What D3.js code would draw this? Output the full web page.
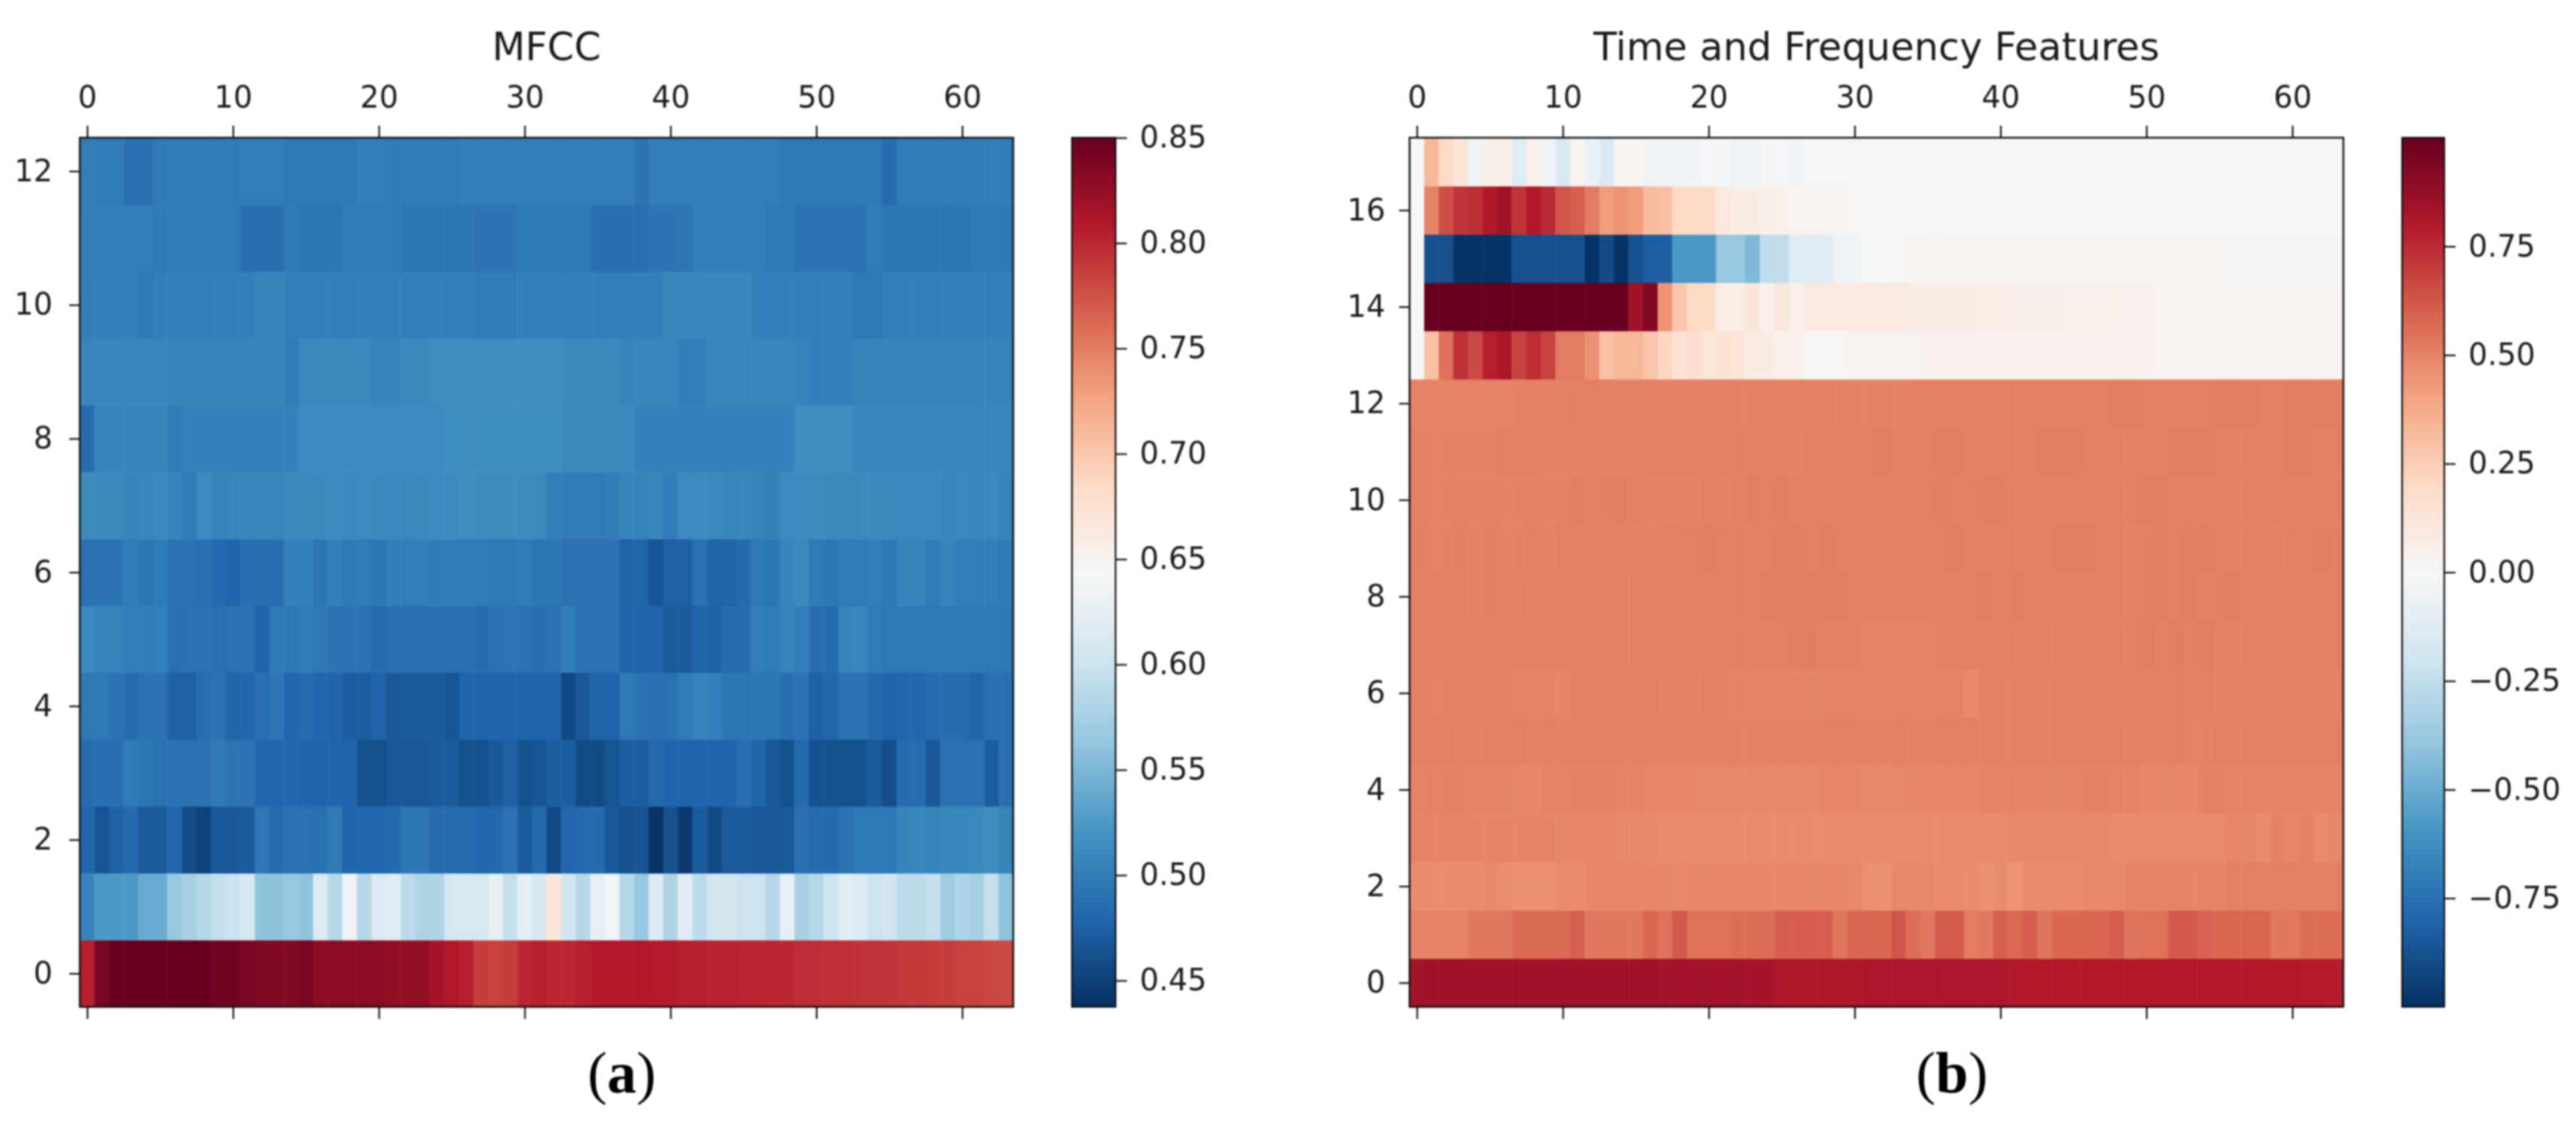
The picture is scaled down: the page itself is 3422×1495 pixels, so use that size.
<!DOCTYPE html>
<html lang="en">

<head>
    <meta charset="UTF-8">
    <title>MFCC and Time and Frequency Features</title>
    <script src="https://d3js.org/d3.v7.min.js"></script>
    <style>
        html, body {
            margin: 0;
            padding: 0;
            background-color: white;
        }

        /* the source figure is a soft upscaled bitmap */
        svg {
            display: block;
            filter: blur(0.8px);
        }
    </style>
</head>

<body>
    <svg id="chart" width="3422" height="1495"></svg>

    <script>
        // panel (a) rows, row 0 is at the bottom
        const mfcc0 = [.805,.84,.85,.85,.85,.85,.85,.85,.85,.845,.845,.84,.835,.835,.835,.84,
            .83,.83,.83,.83,.83,.825,.825,.825,.815,.81,.805,.787,.785,.787,.80,.805,
            .80,.80,.805,.808,.809,.809,.809,.808,.807,.805,.805,.803,.803,.802,.802,.80,
            .80,.797,.796,.795,.795,.794,.793,.792,.79,.789,.788,.787,.785,.784,.782,.78];
        const mfcc1 = [.505,.525,.525,.525,.54,.54,.565,.575,.585,.595,.60,.61,.56,.56,.565,.56,
            .615,.585,.635,.585,.615,.62,.59,.58,.58,.61,.61,.61,.625,.595,.625,.61,
            .67,.605,.585,.625,.638,.585,.565,.615,.58,.62,.59,.605,.605,.60,.60,.585,
            .625,.575,.585,.60,.62,.615,.60,.605,.59,.59,.595,.57,.58,.575,.595,.56];
        const mfcc2 = [.48,.465,.475,.482,.47,.47,.48,.46,.452,.468,.468,.47,.495,.483,.49,.49,
            .488,.497,.478,.48,.48,.482,.493,.493,.483,.483,.483,.48,.481,.49,.47,.482,
            .458,.48,.482,.482,.468,.462,.465,.44,.462,.445,.47,.457,.47,.47,.467,.468,
            .469,.488,.483,.482,.49,.495,.495,.495,.505,.508,.505,.508,.508,.51,.515,.505];
        const mfcc3 = [.485,.487,.487,.497,.493,.49,.49,.49,.49,.497,.492,.492,.48,.48,.48,.478,
            .478,.478,.478,.463,.463,.467,.467,.467,.47,.47,.463,.463,.468,.475,.463,.465,
            .472,.472,.457,.457,.465,.472,.472,.482,.478,.478,.478,.478,.478,.487,.478,.468,
            .463,.482,.463,.463,.463,.463,.47,.46,.485,.485,.467,.49,.49,.49,.472,.488];
        const mfcc4 = [.495,.495,.49,.485,.49,.49,.475,.475,.485,.49,.477,.48,.488,.493,.48,.485,
            .48,.478,.472,.472,.478,.468,.47,.47,.47,.465,.478,.478,.478,.478,.478,.478,
            .478,.456,.468,.477,.478,.495,.49,.488,.49,.497,.505,.503,.493,.493,.493,.493,
            .487,.49,.475,.48,.49,.49,.482,.478,.48,.48,.485,.485,.485,.478,.488,.488];
        const mfcc5 = [.512,.505,.505,.50,.50,.503,.488,.49,.49,.488,.49,.49,.478,.495,.495,.498,
            .495,.492,.492,.49,.485,.488,.488,.488,.488,.488,.488,.485,.49,.492,.49,.487,
            .49,.50,.49,.49,.49,.478,.478,.478,.47,.47,.477,.475,.485,.485,.50,.497,
            .505,.50,.485,.485,.505,.508,.497,.495,.495,.495,.495,.495,.495,.495,.495,.495];
        const mfcc6 = [.49,.49,.49,.498,.493,.497,.49,.49,.488,.482,.478,.487,.487,.487,.503,.503,
            .492,.503,.496,.497,.494,.50,.50,.50,.498,.498,.498,.497,.495,.495,.497,.493,
            .493,.49,.49,.49,.49,.477,.477,.465,.475,.475,.49,.477,.477,.482,.495,.493,
            .505,.51,.497,.493,.498,.497,.50,.495,.505,.505,.497,.505,.50,.50,.50,.497];
        const mfcc7 = [.513,.511,.51,.505,.508,.51,.505,.498,.512,.505,.507,.507,.508,.507,.51,.51,
            .511,.512,.51,.512,.511,.509,.51,.511,.512,.513,.514,.513,.513,.513,.513,.511,
            .50,.498,.497,.497,.50,.506,.504,.508,.50,.512,.512,.51,.508,.509,.505,.503,
            .512,.513,.513,.511,.51,.511,.511,.51,.509,.509,.509,.508,.51,.508,.51,.506];
        const mfcc8 = [.485,.506,.506,.506,.506,.506,.498,.503,.503,.503,.503,.503,.503,.503,.503,.512,
            .512,.512,.512,.512,.512,.512,.512,.512,.512,.515,.515,.515,.515,.515,.515,.515,
            .515,.51,.51,.51,.51,.51,.503,.503,.503,.503,.503,.503,.503,.503,.503,.503,
            .503,.514,.514,.514,.514,.508,.508,.508,.508,.508,.508,.508,.508,.508,.508,.508];
        const mfcc9 = [.508,.508,.508,.508,.508,.508,.505,.505,.505,.505,.505,.505,.505,.505,.498,.51,
            .51,.51,.51,.51,.505,.505,.51,.51,.514,.514,.514,.514,.514,.514,.514,.514,
            .514,.51,.51,.51,.51,.505,.507,.507,.507,.50,.50,.507,.507,.507,.507,.507,
            .507,.505,.502,.502,.502,.505,.505,.505,.505,.505,.505,.505,.505,.505,.505,.505];
        const mfcc10 = [.502,.502,.502,.502,.496,.502,.502,.502,.502,.502,.502,.502,.505,.505,.502,.502,
            .502,.502,.502,.502,.502,.502,.502,.502,.502,.502,.502,.498,.498,.498,.502,.502,
            .502,.502,.502,.502,.502,.502,.502,.502,.508,.508,.508,.508,.508,.508,.502,.502,
            .502,.502,.502,.502,.502,.495,.495,.502,.502,.502,.502,.502,.502,.502,.502,.502];
        const mfcc11 = [.50,.50,.50,.50,.50,.497,.497,.497,.497,.497,.497,.487,.487,.487,.497,.493,
            .493,.493,.498,.498,.498,.498,.493,.493,.493,.493,.493,.492,.492,.492,.496,.496,
            .496,.496,.496,.487,.487,.487,.487,.492,.492,.492,.501,.501,.501,.501,.501,.495,
            .495,.49,.49,.49,.49,.49,.497,.493,.493,.493,.493,.493,.493,.495,.495,.495];
        const mfcc12 = [.499,.498,.498,.488,.488,.497,.497,.497,.497,.497,.497,.499,.499,.499,.495,.495,
            .495,.495,.495,.50,.50,.497,.497,.497,.497,.497,.50,.50,.50,.50,.50,.50,
            .50,.50,.50,.50,.50,.50,.492,.50,.50,.50,.50,.50,.50,.50,.50,.50,
            .495,.495,.495,.495,.495,.495,.495,.485,.497,.497,.497,.497,.497,.50,.50,.50];

        // panel (b) rows, row 0 is at the bottom
        const tf0 = [.84,.85,.85,.85,.85,.85,.85,.85,.85,.85,.85,.85,.85,.85,.85,.85,
            .85,.84,.84,.84,.84,.84,.84,.84,.83,.81,.81,.81,.81,.81,.81,.82,
            .82,.82,.82,.82,.82,.82,.82,.82,.82,.80,.80,.80,.80,.80,.80,.80,
            .80,.80,.80,.80,.80,.80,.80,.80,.80,.80,.80,.80,.80,.795,.795,.79];
        const tf1 = [.50,.50,.50,.50,.53,.53,.53,.57,.57,.57,.57,.60,.53,.53,.53,.53,
            .58,.55,.62,.55,.55,.55,.56,.56,.56,.60,.60,.60,.60,.54,.58,.58,
            .58,.63,.56,.53,.61,.61,.52,.53,.60,.57,.60,.54,.58,.58,.58,.58,
            .60,.54,.55,.55,.62,.62,.59,.58,.58,.58,.58,.53,.53,.56,.56,.56];
        const tf2 = [.47,.47,.47,.47,.47,.48,.465,.46,.46,.46,.47,.47,.49,.49,.49,.49,
            .49,.49,.48,.49,.49,.49,.49,.49,.49,.49,.49,.49,.49,.49,.485,.46,
            .455,.48,.48,.48,.47,.47,.47,.455,.47,.45,.475,.475,.475,.475,.48,.48,
            .48,.495,.495,.495,.495,.495,.495,.495,.51,.51,.51,.51,.51,.51,.51,.51];
        const tf3 = [.495,.495,.495,.495,.495,.495,.495,.495,.495,.495,.49,.49,.49,.49,.485,.485,
            .48,.475,.475,.475,.475,.475,.47,.47,.47,.47,.47,.47,.47,.47,.47,.475,
            .475,.475,.475,.47,.47,.475,.475,.475,.475,.48,.48,.48,.48,.48,.48,.48,
            .475,.475,.475,.475,.475,.475,.475,.475,.49,.49,.475,.50,.49,.505,.475,.49];
        const tf4 = [.50,.505,.505,.505,.50,.50,.50,.49,.49,.50,.50,.505,.505,.505,.50,.50,
            .49,.49,.49,.49,.485,.485,.485,.485,.485,.485,.485,.485,.49,.49,.49,.485,
            .485,.485,.49,.49,.49,.49,.49,.50,.50,.50,.50,.50,.50,.50,.505,.505,
            .50,.50,.49,.49,.49,.49,.505,.505,.50,.50,.50,.50,.50,.50,.50,.50];
        const tf5 = [.51,.51,.51,.505,.505,.51,.51,.51,.505,.51,.505,.505,.505,.505,.505,.505,
            .505,.505,.505,.505,.505,.505,.505,.505,.505,.505,.505,.505,.51,.51,.51,.505,
            .505,.51,.505,.505,.51,.51,.51,.505,.505,.505,.505,.505,.505,.505,.51,.51,
            .51,.51,.51,.51,.51,.505,.505,.51,.51,.51,.51,.51,.51,.51,.51,.51];
        const tf6 = [.505,.505,.505,.505,.505,.505,.505,.495,.495,.495,.495,.505,.505,.505,.505,.505,
            .51,.505,.51,.505,.51,.505,.50,.50,.50,.50,.50,.50,.50,.50,.50,.50,
            .50,.50,.50,.50,.50,.50,.48,.505,.505,.505,.505,.505,.505,.505,.51,.51,
            .505,.505,.505,.505,.51,.505,.51,.505,.51,.505,.505,.505,.505,.505,.505,.505];
        const tf7 = [.51,.51,.51,.51,.51,.51,.51,.51,.51,.51,.51,.51,.51,.51,.51,.51,
            .51,.51,.51,.51,.51,.51,.51,.51,.51,.51,.52,.52,.51,.51,.51,.50,
            .50,.50,.50,.50,.51,.51,.51,.51,.51,.51,.51,.51,.505,.51,.51,.51,
            .51,.51,.52,.51,.52,.51,.52,.51,.51,.51,.51,.51,.51,.51,.51,.51];
        const tf8 = [.51,.51,.51,.51,.505,.51,.505,.51,.505,.51,.51,.51,.51,.51,.51,.51,
            .505,.505,.505,.505,.505,.51,.51,.51,.515,.515,.515,.515,.515,.515,.51,.51,
            .51,.51,.51,.505,.51,.51,.51,.515,.51,.515,.51,.51,.51,.51,.51,.51,
            .51,.51,.51,.515,.51,.515,.51,.51,.515,.51,.51,.51,.51,.51,.51,.51];
        const tf9 = [.51,.505,.505,.51,.505,.51,.505,.505,.51,.505,.51,.51,.51,.51,.51,.505,
            .505,.51,.51,.51,.515,.51,.51,.505,.51,.515,.515,.51,.515,.51,.51,.51,
            .51,.51,.51,.51,.51,.515,.51,.51,.51,.51,.51,.51,.515,.515,.515,.51,
            .51,.505,.51,.515,.51,.515,.515,.51,.51,.51,.51,.505,.51,.51,.515,.51];
        const tf10 = [.505,.505,.505,.505,.505,.505,.505,.505,.505,.505,.505,.515,.505,.51,.515,.51,
            .505,.505,.505,.505,.51,.505,.51,.515,.51,.515,.51,.51,.51,.51,.51,.51,
            .51,.51,.51,.51,.515,.51,.51,.515,.515,.51,.51,.51,.51,.51,.51,.51,
            .51,.51,.515,.515,.51,.51,.51,.51,.51,.51,.51,.51,.51,.51,.51,.51];
        const tf11 = [.505,.505,.505,.505,.505,.505,.51,.51,.51,.505,.505,.505,.505,.505,.505,.505,
            .51,.51,.51,.51,.51,.51,.51,.51,.51,.51,.505,.51,.51,.51,.51,.51,
            .515,.51,.51,.51,.515,.515,.51,.51,.51,.51,.51,.515,.515,.515,.51,.51,
            .51,.51,.51,.51,.515,.515,.515,.51,.51,.51,.51,.51,.515,.515,.51,.51];
        const tf12 = [.50,.50,.50,.495,.50,.50,.50,.505,.505,.505,.505,.51,.51,.505,.505,.505,
            .505,.505,.505,.505,.505,.505,.505,.505,.505,.51,.51,.51,.51,.505,.505,.505,
            .505,.505,.505,.51,.51,.51,.51,.51,.51,.51,.51,.51,.51,.51,.51,.51,
            .515,.515,.51,.51,.51,.51,.51,.515,.515,.515,.51,.51,.515,.515,.515,.515];
        const tf13 = [0,.30,.55,.73,.66,.78,.82,.68,.74,.68,.52,.52,.46,.30,.33,.33,
            .28,.22,.15,.17,.12,.15,.13,.08,.08,.05,.05,.01,.01,.01,.03,.03,
            .03,.03,.03,.04,.04,.04,.04,.04,.04,.04,.04,.04,.04,.04,.04,.04,
            .04,.04,.04,.03,.03,.03,.03,.03,.03,.03,.03,.03,.03,.03,.03,.03];
        const tf14 = [0,1,1,1,1,1,1,1,1,1,1,1,1,1,1,.85,
            .93,.45,.28,.20,.20,.07,.07,.13,.05,.12,.05,.10,.10,.10,.10,.10,
            .09,.09,.08,.08,.08,.08,.08,.07,.07,.06,.06,.06,.06,.05,.05,.05,
            .05,.04,.04,.03,.03,.03,.03,.03,.03,.03,.03,.03,.03,.03,.03,.03];
        const tf15 = [0,-.88,-.88,-.99,-.99,-.99,-.99,-.88,-.88,-.88,-.88,-.88,-.99,-.90,-.99,-.88,
            -.83,-.83,-.58,-.58,-.58,-.38,-.38,-.45,-.25,-.25,-.12,-.12,-.12,-.04,-.04,0,
            0,.01,.02,.03,.03,.02,.02,.03,.03,.03,.03,.03,.03,.02,.02,.02,
            .02,.02,.02,.02,.02,.02,.02,.02,.015,.015,.015,.015,.015,.015,.015,.015];
        const tf16 = [0,.50,.65,.72,.74,.80,.85,.72,.80,.75,.63,.60,.52,.42,.45,.42,
            .32,.30,.20,.20,.20,.10,.08,.08,.06,.05,.03,.03,.03,.03,.01,.01,
            .01,.01,.01,.01,.01,.01,.01,.01,0,0,0,0,0,0,0,0,
            0,0,0,0,0,0,0,0,0,0,0,0,0,0,0,0];
        const tf17 = [0,.33,.20,.13,-.05,.06,.06,-.12,.05,-.04,-.16,.03,-.07,-.15,.02,.02,
            -.05,-.05,-.05,-.03,-.01,-.02,-.05,-.05,-.02,-.01,-.05,-.01,-.01,-.01,-.01,0,
            0,0,0,0,0,0,0,0,0,0,0,0,0,0,0,0,
            0,0,0,0,0,0,0,0,0,0,0,0,0,0,0,0];

        const mfccRows = [mfcc0, mfcc1, mfcc2, mfcc3, mfcc4, mfcc5, mfcc6, mfcc7, mfcc8, mfcc9, mfcc10, mfcc11, mfcc12];
        const tfRows = [tf0, tf1, tf2, tf3, tf4, tf5, tf6, tf7, tf8, tf9, tf10, tf11, tf12, tf13, tf14, tf15, tf16, tf17];

        const xTicks = [0, 10, 20, 30, 40, 50, 60];
        const mfccYTicks = [0, 2, 4, 6, 8, 10, 12];
        const tfYTicks = [0, 2, 4, 6, 8, 10, 12, 14, 16];
        const mfccBarTicks = [0.45, 0.50, 0.55, 0.60, 0.65, 0.70, 0.75, 0.80, 0.85];
        const tfBarTicks = [-0.75, -0.50, -0.25, 0, 0.25, 0.50, 0.75];

        // RdBu_r stops
        const rdbu = ["#053061", "#2166ac", "#4393c3", "#92c5de", "#d1e5f0", "#f7f7f7", "#fddbc7", "#f4a582", "#d6604d", "#b2182b", "#67001f"];

        const tickFont = 40;
        const plotTop = 183, plotBottom = 1338;
        const svg = d3.select("#chart");

        function panel(o) {
            const g = svg.append("g");
            const x = d3.scaleLinear().domain([-0.5, 63.5]).range([o.left, o.right]);
            const y = d3.scaleLinear().domain([-0.5, o.rows.length - 0.5]).range([plotBottom, plotTop]);
            const color = d3.scaleLinear()
                .domain(d3.quantize(d3.interpolate(o.vmin, o.vmax), rdbu.length))
                .range(rdbu)
                .clamp(true);

            o.rows.forEach((row, r) => {
                g.append("g").selectAll("rect")
                    .data(row)
                    .join("rect")
                    .attr("x", (d, c) => x(c - 0.5))
                    .attr("y", y(r + 0.5))
                    .attr("width", (d, c) => x(c + 0.5) - x(c - 0.5) + 0.5)
                    .attr("height", y(r - 0.5) - y(r + 0.5) + 0.5)
                    .attr("fill", d => color(d));
            });

            const styleAxis = sel => {
                sel.select(".domain").remove();
                sel.selectAll("line").attr("stroke", "#111").attr("stroke-width", 2.2);
                sel.selectAll("text").attr("font-family", "'DejaVu Sans'").attr("font-size", tickFont).attr("fill", "#1a1a1a");
            };

            g.append("g").attr("transform", `translate(0,${plotTop})`)
                .call(d3.axisTop(x).tickValues(xTicks).tickSize(16).tickPadding(24))
                .call(styleAxis);
            g.append("g").attr("transform", `translate(0,${plotBottom})`)
                .call(d3.axisBottom(x).tickValues(xTicks).tickSize(16).tickFormat(""))
                .call(styleAxis);
            g.append("g").attr("transform", `translate(${o.left},0)`)
                .call(d3.axisLeft(y).tickValues(o.yTicks).tickSize(14).tickPadding(o.yPad))
                .call(styleAxis);

            g.append("rect")
                .attr("x", o.left).attr("y", plotTop)
                .attr("width", o.right - o.left).attr("height", plotBottom - plotTop)
                .attr("fill", "none").attr("stroke", "#111").attr("stroke-width", 2.4);

            g.append("text")
                .attr("x", (o.left + o.right) / 2).attr("y", 80)
                .attr("text-anchor", "middle")
                .attr("font-family", "'DejaVu Sans'").attr("font-size", 51).attr("fill", "#1a1a1a")
                .text(o.title);

            // colorbar
            const bar = d3.scaleLinear().domain([o.vmin, o.vmax]).range([plotBottom, plotTop]);
            const gradient = svg.append("defs").append("linearGradient")
                .attr("id", o.id).attr("x1", 0).attr("x2", 0).attr("y1", 1).attr("y2", 0);
            gradient.selectAll("stop").data(rdbu).join("stop")
                .attr("offset", (d, i) => i / (rdbu.length - 1))
                .attr("stop-color", d => d);
            g.append("rect")
                .attr("x", o.barLeft).attr("y", plotTop)
                .attr("width", o.barRight - o.barLeft).attr("height", plotBottom - plotTop)
                .attr("fill", `url(#${o.id})`)
                .attr("stroke", "#111").attr("stroke-width", 2.2);
            g.append("g").attr("transform", `translate(${o.barRight},0)`)
                .call(d3.axisRight(bar).tickValues(o.barTicks).tickSize(15).tickPadding(17).tickFormat(d3.format(".2f")))
                .call(styleAxis);

            // caption under the panel
            const cap = g.append("text")
                .attr("x", o.capX).attr("y", 1452)
                .attr("text-anchor", "middle")
                .attr("font-family", "'Liberation Serif'").attr("font-size", 78).attr("fill", "black");
            cap.append("tspan").text("(");
            cap.append("tspan").attr("font-weight", "bold").text(o.cap);
            cap.append("tspan").text(")");
        }

        panel({
            id: "barA", title: "MFCC", cap: "a", capX: 826,
            rows: mfccRows, yTicks: mfccYTicks, yPad: 22,
            left: 106, right: 1346, vmin: 0.4375, vmax: 0.85,
            barLeft: 1424, barRight: 1482, barTicks: mfccBarTicks
        });

        panel({
            id: "barB", title: "Time and Frequency Features", cap: "b", capX: 2593,
            rows: tfRows, yTicks: tfYTicks, yPad: 18,
            left: 1872.5, right: 3113, vmin: -1, vmax: 1,
            barLeft: 3191, barRight: 3247, barTicks: tfBarTicks
        });
    </script>
</body>

</html>
